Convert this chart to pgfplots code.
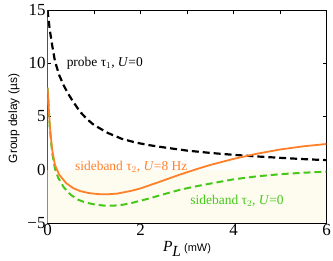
\documentclass[border=0pt]{standalone}
\usepackage{fontspec}
\setmainfont{Liberation Serif}
\setsansfont{Liberation Sans}
\usepackage{pgfplots}
\pgfplotsset{compat=1.18}
\definecolor{myorange}{RGB}{255,128,40}
\definecolor{mygreen}{RGB}{70,200,25}
\definecolor{cream}{RGB}{253,252,238}
\newcommand{\tl}[1]{{\rmfamily\fontsize{17}{17}\selectfont #1}}
\begin{document}
\begin{tikzpicture}
\begin{axis}[
  name=ax,
  scale only axis, width=279bp, height=213bp,
  xmin=0, xmax=6, ymin=-5, ymax=15,
  xtick={0,2,4,6}, minor xtick={1,3,5},
  xticklabels={\tl{0},\tl{2},\tl{4},\tl{6}},
  ytick={-5,0,5,10,15},
  yticklabels={\tl{−5},\tl{0},\tl{5},\tl{10},\tl{15}},
  tick align=inside, major tick length=4pt, minor tick length=4pt,
  tick style={black, thin},
  ticks=both,
  /pgf/number format/assume math mode=true,
  xticklabel style={yshift=2bp},
  yticklabel style={xshift=1.5bp},
  axis line style={black},
  ylabel={\sffamily Group delay (µs)},
  ylabel style={font=\fontsize{12}{12}\selectfont, at={(axis description cs:-0.12,0.49)}, anchor=center},
  xlabel={\fontsize{15.5}{15.5}\selectfont\textit{P}$_{\textit{L}}$\,{\sffamily\fontsize{11}{11}\selectfont(mW)}},
  xlabel style={at={(axis description cs:0.5,-0.1315)}, anchor=base},
  clip=true,
]
\fill[cream] (axis cs:0,-5) rectangle (axis cs:6,0);
\draw[gray, line width=1pt] (axis cs:0,-5) -- (axis cs:0,15);
\addplot[black, line width=2.2pt, dash pattern=on 7pt off 4pt] coordinates {
(0,15) (0.05,13.1) (0.1,11.7) (0.16,10.2) (0.25,8.9) (0.35,7.9) (0.45,7.1) (0.55,6.4) (0.7,5.45) (0.85,4.75) (1.0,4.2) (1.3,3.45) (1.6,2.9) (1.9,2.55) (2.2,2.3) (2.5,2.1) (3.0,1.8) (3.5,1.58) (4.0,1.4) (4.5,1.25) (5.0,1.12) (5.5,1.0) (6.0,0.9)};
\addplot[mygreen, line width=2pt, dash pattern=on 7pt off 4pt] coordinates {
(0,7.7) (0.02,6.3) (0.05,3.9) (0.1,1.6) (0.16,0.1) (0.23,-0.75) (0.35,-1.65) (0.5,-2.35) (0.65,-2.8) (0.8,-3.05) (1.0,-3.25) (1.2,-3.36) (1.4,-3.38) (1.6,-3.3) (1.8,-3.13) (2.2,-2.68) (2.5,-2.3) (2.85,-1.88) (3.2,-1.55) (3.5,-1.3) (4.0,-0.9) (4.5,-0.62) (5.0,-0.42) (5.5,-0.28) (6.0,-0.18)};
\addplot[myorange, line width=1.8pt] coordinates {
(0,7.7) (0.02,6.4) (0.05,4.1) (0.1,1.9) (0.16,0.45) (0.25,-0.45) (0.4,-1.25) (0.55,-1.72) (0.7,-2.0) (0.9,-2.2) (1.1,-2.29) (1.3,-2.3) (1.5,-2.24) (1.8,-1.98) (2.0,-1.75) (2.4,-1.15) (2.85,-0.45) (3.2,0.05) (3.5,0.45) (4.0,1.02) (4.5,1.5) (5.0,1.9) (5.5,2.2) (6.0,2.42)};
\node[anchor=west, inner sep=0pt, font=\fontsize{13.5}{14}\selectfont, text=black] at (axis cs:0.41,10) {probe τ$_1$, \textit{U}=0};
\node[anchor=west, inner sep=0pt, font=\fontsize{13.5}{14}\selectfont, text=myorange] at (axis cs:0.59,0.25) {sideband τ$_2$, \textit{U}=8 Hz};
\node[anchor=west, inner sep=0pt, font=\fontsize{13.5}{14}\selectfont, text=mygreen] at (axis cs:3.07,-2.9) {sideband τ$_2$, \textit{U}=0};
\end{axis}
\path (ax.south west) ++(-47.5bp,-38bp) coordinate (bl);
\path (ax.north east) ++(6.5bp,10bp) coordinate (tr);
\pgfresetboundingbox
\path[use as bounding box] (bl) rectangle (tr);
\end{tikzpicture}
\end{document}
